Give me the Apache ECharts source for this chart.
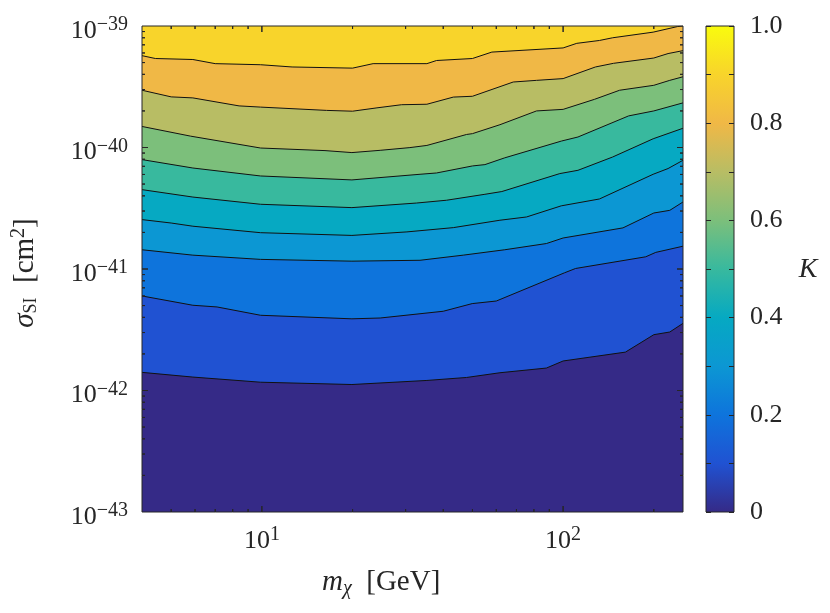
<!DOCTYPE html>
<html><head><meta charset="utf-8">
<script src="https://cdn.jsdelivr.net/npm/echarts@6/dist/echarts.min.js"></script>
<style>html,body{margin:0;padding:0;background:#fff}#c{width:830px;height:613px}</style>
</head><body><div id="c"></div>
<script>
// ---------- data ----------
const xLim = [4, 250];          // m_chi [GeV]
const yLim = [1e-43, 1e-39];    // sigma_SI [cm^2]
const kLevels = [0.9, 0.8, 0.7, 0.6, 0.5, 0.4, 0.3, 0.2, 0.1];
const cbTicks = [0, 0.2, 0.4, 0.6, 0.8, 1.0];

// contour K = 0.9 ... 0.1, points [mass GeV, sigma cm^2]
const k90 = [[4.0,5.7e-40],[4.43,5.4e-40],[5.9,5.3e-40],[7.0,4.9e-40],[9.9,4.8e-40],[12.6,4.6e-40],[20,4.5e-40],[23.4,4.9e-40],[35.3,4.9e-40],[38,5.2e-40],[50,5.4e-40],[58,6.1e-40],[100,6.6e-40],[111,7.2e-40],[132,7.6e-40],[146,8.0e-40],[199,8.9e-40],[240,9.9e-40],[250,1e-39]];
const k80 = [[4.0,2.96e-40],[5.0,2.61e-40],[5.9,2.56e-40],[8.4,2.2e-40],[9.9,2.15e-40],[16.4,2.02e-40],[20,1.99e-40],[24.1,2.12e-40],[29.1,2.25e-40],[35.3,2.27e-40],[43.2,2.6e-40],[50,2.64e-40],[68.3,3.46e-40],[81.6,3.57e-40],[100,3.69e-40],[128,4.6e-40],[147,4.93e-40],[200,5.45e-40],[223,5.93e-40],[250,6.27e-40]];
const k70 = [[4.0,1.49e-40],[5.8,1.24e-40],[9.9,9.9e-41],[16.2,9.43e-41],[19.9,9.08e-41],[24.7,9.48e-41],[31,9.98e-41],[35.3,1.04e-40],[47.8,1.28e-40],[50,1.30e-40],[61.7,1.54e-40],[81.6,2.0e-40],[100,2.06e-40],[127,2.49e-40],[154,2.96e-40],[200,3.25e-40],[226,3.57e-40],[250,3.82e-40]];
const k60 = [[4.0,7.95e-41],[5.9,6.78e-41],[9.9,5.83e-41],[19.9,5.41e-41],[33.5,6.02e-41],[38,6.17e-41],[50,7.05e-41],[55,7.23e-41],[64,8.22e-41],[98.7,1.13e-40],[112,1.22e-40],[165,1.82e-40],[200,2.0e-40],[250,2.33e-40]];
const k50 = [[4.0,4.5e-41],[5.9,3.91e-41],[9.9,3.41e-41],[19.9,3.2e-41],[32.6,3.49e-41],[41,3.68e-41],[55,4.12e-41],[62.6,4.34e-41],[97.5,6.1e-41],[112,6.49e-41],[146,8.35e-41],[199,1.18e-40],[250,1.44e-40]];
const k40 = [[4.0,2.55e-41],[5.0,2.39e-41],[5.9,2.25e-41],[9.9,1.99e-41],[19.9,1.89e-41],[30.3,2.02e-41],[43.2,2.19e-41],[61.7,2.52e-41],[75.6,2.68e-41],[98.6,3.31e-41],[132,3.77e-41],[199,6.02e-41],[223,6.71e-41],[250,7.85e-41]];
const k30 = [[4.0,1.44e-41],[5.9,1.30e-41],[9.9,1.20e-41],[19.9,1.16e-41],[33.5,1.18e-41],[46.6,1.30e-41],[64,1.44e-41],[88,1.62e-41],[100,1.80e-41],[158,2.18e-41],[200,2.89e-41],[226,3.04e-41],[250,3.56e-41]];
const k20 = [[4.0,6.0e-42],[5.9,5.03e-42],[7.1,4.87e-42],[9.9,4.16e-42],[19.9,3.89e-42],[24.7,3.95e-42],[40,4.49e-42],[49.9,5.19e-42],[60,5.45e-42],[101,9.3e-42],[110,1.01e-41],[188,1.26e-41],[203,1.37e-41],[250,1.54e-41]];
const k10 = [[4.0,1.41e-42],[5.9,1.29e-42],[9.9,1.17e-42],[19.9,1.12e-42],[35.3,1.21e-42],[47.8,1.28e-42],[61.7,1.40e-42],[88,1.53e-42],[100,1.75e-42],[161,2.07e-42],[200,2.88e-42],[226,3.03e-42],[250,3.57e-42]];
const contours = [k90, k80, k70, k60, k50, k40, k30, k20, k10];

// tick positions (axis decoration)
const xMajorTicks = [10, 100];
const xMinorTicks = [5, 6, 7, 8, 9, 20, 30, 40, 50, 60, 70, 80, 90, 200];
const yMajorTicks = [1e-42, 1e-41, 1e-40];
const yMantissas = [2, 3, 4, 5, 6, 7, 8, 9];
const yDecades = [-43, -42, -41, -40];

// ---------- scaling: the y axis works in units of 1e-43 cm^2 (ECharts log scale rounds tiny numbers) ----------
const Y_UNIT = 1e-43, Y_UNIT_EXP = -43;
const toY = v => v / Y_UNIT;

// ---------- layout & styles ----------
const PLOT = {left: 142, top: 26, width: 541, height: 486};
const CBAR = {left: 706, top: 26, width: 28, height: 486};
const FONT = '"Liberation Serif", "DejaVu Serif", serif';
const INK = '#262626';
const bandTop = '#F8D42B';
const bandColors = ['#F0B846', '#B8BD64', '#7CBF7B', '#38B99E', '#06A9C2', '#0C97D3', '#0E74DC', '#2052D2', '#352A87'];
const cbStops = [['0', '#352A87'], ['0.1', '#2052D2'], ['0.2', '#0E74DC'], ['0.3', '#0C97D3'], ['0.4', '#06A9C2'], ['0.5', '#38B99E'], ['0.6', '#7CBF7B'], ['0.7', '#B8BD64'], ['0.8', '#F0B846'], ['0.9', '#F8D42B'], ['1', '#F9FB0E']];

// ---------- frame + inward ticks as one closed polyline in data space ----------
// tick length (px) converted to a multiplicative step on each log axis
const xPxPerDecade = PLOT.width / Math.log10(xLim[1] / xLim[0]);
const yPxPerDecade = PLOT.height / Math.log10(yLim[1] / yLim[0]);
const fx = px => Math.pow(10, px / xPxPerDecade);
const fy = px => Math.pow(10, px / yPxPerDecade);
const MAJOR = 6, MINOR = 3;
const xTicks = xMinorTicks.map(v => [v, MINOR]).concat(xMajorTicks.map(v => [v, MAJOR])).sort((a, b) => a[0] - b[0]);
const yTicks = [];
yDecades.forEach(e => yMantissas.forEach(m => yTicks.push([m * Math.pow(10, e), MINOR])));
yMajorTicks.forEach(v => yTicks.push([v, MAJOR]));
yTicks.sort((a, b) => a[0] - b[0]);

const y0 = toY(yLim[0]), y1 = toY(yLim[1]);
const framePath = [[xLim[0], y0]];
xTicks.forEach(([v, L]) => { framePath.push([v, y0], [v, y0 * fy(L)], [v, y0]); });            // bottom edge
framePath.push([xLim[1], y0]);
yTicks.forEach(([v, L]) => { const y = toY(v); framePath.push([xLim[1], y], [xLim[1] / fx(L), y], [xLim[1], y]); }); // right edge
framePath.push([xLim[1], y1]);
xTicks.slice().reverse().forEach(([v, L]) => { framePath.push([v, y1], [v, y1 / fy(L)], [v, y1]); }); // top edge
framePath.push([xLim[0], y1]);
yTicks.slice().reverse().forEach(([v, L]) => { const y = toY(v); framePath.push([xLim[0], y], [xLim[0] * fx(L), y], [xLim[0], y]); }); // left edge
framePath.push([xLim[0], y0]);

function supLabel(r) { return '{b|10}{s|' + (r < 0 ? '\u2212' : '') + Math.abs(r) + '}'; }
function xLabel(v) {
  const e = Math.log10(v), r = Math.round(e);
  if (Math.abs(e - r) > 1e-6) return '';
  return supLabel(r);
}
function yLabel(v) {
  const e = Math.log10(v), r = Math.round(e);
  if (Math.abs(e - r) > 1e-6) return '';
  return supLabel(r + Y_UNIT_EXP);
}
function labelRich() {
  return {
    b: {fontSize: 26, fontFamily: FONT, color: INK},
    s: {fontSize: 20, fontFamily: FONT, color: INK, padding: [0, 0, 12, 0]}
  };
}

const bandSeries = contours.map((pts, i) => ({
  type: 'line', name: 'K=' + kLevels[i], xAxisIndex: 0, yAxisIndex: 0,
  data: pts.map(p => [p[0], toY(p[1])]), symbol: 'none', showSymbol: false, smooth: false,
  lineStyle: {color: '#111', width: 1},
  areaStyle: {color: bandColors[i], opacity: 1, origin: 'start'},
  z: 2
}));

const cbGradient = {type: 'linear', x: 0, y: 1, x2: 0, y2: 0, global: false,
  colorStops: cbStops.map(s => ({offset: +s[0], color: s[1]}))};

function cbAxis(pos, withLabels) {
  return {type: 'value', gridIndex: 1, min: 0, max: 1, interval: 0.1, position: pos, z: 20,
    axisLine: {show: false, onZero: false},
    axisTick: {show: true, inside: true, length: 5, lineStyle: {color: INK, width: 1}},
    splitLine: {show: false},
    axisLabel: withLabels ? {margin: 16, padding: [5, 0, 0, 0], fontSize: 26, fontFamily: FONT, color: INK,
      formatter: v => { const t = Math.round(v * 10); if (t % 2) return ''; return t === 0 ? '0' : (t / 10).toFixed(1); }}
      : {show: false}};
}

const option = {
  animation: false,
  grid: [
    Object.assign({show: true, backgroundColor: bandTop, borderWidth: 0}, PLOT),
    Object.assign({show: true, backgroundColor: cbGradient, borderWidth: 0}, CBAR)
  ],
  xAxis: [
    {type: 'log', gridIndex: 0, min: xLim[0], max: xLim[1], position: 'bottom',
     axisLine: {show: false, onZero: false}, axisTick: {show: false}, splitLine: {show: false}, minorTick: {show: false},
     axisLabel: {margin: 13, formatter: xLabel, rich: labelRich(), showMinLabel: true, showMaxLabel: true}},
    {type: 'value', gridIndex: 1, min: 0, max: 1, position: 'bottom',
     axisLine: {show: false, onZero: false}, axisTick: {show: false}, splitLine: {show: false}, axisLabel: {show: false}}
  ],
  yAxis: [
    {type: 'log', gridIndex: 0, min: y0, max: y1, position: 'left',
     axisLine: {show: false, onZero: false}, axisTick: {show: false}, splitLine: {show: false},
     axisLabel: {margin: 14, padding: [10, 0, 0, 0], formatter: yLabel, rich: labelRich(), showMinLabel: true, showMaxLabel: true}},
    cbAxis('right', true),
    cbAxis('left', false)
  ],
  series: [
    ...bandSeries,
    {type: 'line', name: 'frame', xAxisIndex: 0, yAxisIndex: 0, data: framePath, symbol: 'none', showSymbol: false,
     smooth: false, clip: false, lineStyle: {color: INK, width: 1}, z: 6},
    {type: 'line', name: 'cbframe', xAxisIndex: 1, yAxisIndex: 1, data: [[0, 0], [1, 0], [1, 1], [0, 1], [0, 0]],
     symbol: 'none', showSymbol: false, smooth: false, clip: false, lineStyle: {color: INK, width: 1}, z: 6}
  ],
  graphic: [
    {type: 'text', left: 322, top: 568, z: 100, style: {
      text: '{i|m}{sub|\u03C7}{r|  [GeV]}', fill: INK,
      rich: {i: {fontSize: 29, fontStyle: 'italic', fontFamily: FONT, fill: INK},
             sub: {fontSize: 20, fontStyle: 'italic', fontFamily: FONT, fill: INK, padding: [12, 0, 0, 0]},
             r: {fontSize: 29, fontFamily: FONT, fill: INK}}}},
    {type: 'text', x: 25, y: 273, rotation: Math.PI / 2, z: 100, style: {
      text: '{i|\u03C3}{sub|SI}{r|  [cm}{sup|2}{r|]}', align: 'center', verticalAlign: 'middle', fill: INK,
      rich: {i: {fontSize: 29, fontStyle: 'italic', fontFamily: FONT, fill: INK},
             sub: {fontSize: 18, fontFamily: FONT, fill: INK, padding: [12, 0, 0, 0]},
             sup: {fontSize: 20, fontFamily: FONT, fill: INK, padding: [0, 0, 12, 0]},
             r: {fontSize: 29, fontFamily: FONT, fill: INK}}}},
    {type: 'text', x: 808, y: 270, z: 100, style: {
      text: 'K', align: 'center', verticalAlign: 'middle', fontSize: 28, fontStyle: 'italic', fontFamily: FONT, fill: INK}}
  ]
};

const chart = echarts.init(document.getElementById('c'), null, {renderer: 'canvas', width: 830, height: 613});
chart.setOption(option);
</script>
</body></html>
